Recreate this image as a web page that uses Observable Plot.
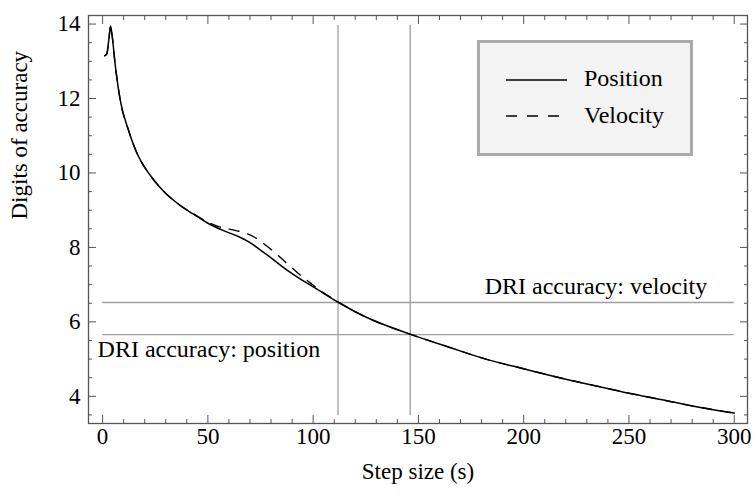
<!DOCTYPE html>
<html>
<head>
<meta charset="utf-8">
<script src="https://cdn.jsdelivr.net/npm/d3@7"></script>
<script src="https://cdn.jsdelivr.net/npm/@observablehq/plot@0.6"></script>
<style>
  body { margin: 0; background: #fff; }
  #wrap { position: relative; width: 754px; height: 495px; font-family: 'Liberation Serif', 'DejaVu Serif', serif; }
  #wrap svg, #wrap text { font-family: 'Liberation Serif', 'DejaVu Serif', serif !important; }
  #legend { position: absolute; left: 477px; top: 40px; }
</style>
</head>
<body>
<div id="wrap"></div>
<script>
// Position curve (step size in s, digits of accuracy)
const positionX = [1, 2, 3, 3.8, 4.5, 6, 8.4, 12.3, 17, 20, 23.5, 27, 30, 33, 37, 43, 50, 57.5, 65, 70, 75, 80, 85, 92, 102, 112, 125, 146, 165, 182, 200, 220, 236, 252, 268, 284, 300];
const positionY = [13.15, 13.2, 13.6, 13.95, 13.7, 12.9, 11.95, 11.15, 10.45, 10.15, 9.87, 9.63, 9.45, 9.3, 9.12, 8.9, 8.65, 8.45, 8.28, 8.13, 7.93, 7.72, 7.5, 7.22, 6.87, 6.52, 6.13, 5.67, 5.31, 5.0, 4.74, 4.46, 4.26, 4.06, 3.88, 3.70, 3.55];
// Velocity curve
const velocityX = [1, 2, 3, 3.8, 4.5, 6, 8.4, 12.3, 17, 20, 23.5, 27, 30, 33, 37, 43, 50, 57.5, 62, 68, 72, 77, 81, 85, 89, 93, 97, 102, 112, 125, 146, 165, 182, 200, 220, 236, 252, 268, 284, 300];
const velocityY = [13.15, 13.2, 13.6, 13.95, 13.7, 12.9, 11.95, 11.15, 10.45, 10.15, 9.87, 9.63, 9.45, 9.3, 9.12, 8.91, 8.68, 8.52, 8.47, 8.38, 8.28, 8.08, 7.9, 7.7, 7.5, 7.3, 7.12, 6.9, 6.53, 6.13, 5.67, 5.31, 5.0, 4.74, 4.46, 4.26, 4.06, 3.88, 3.70, 3.55];

// DRI accuracy reference levels and crossing step sizes
const driLevels = [6.52, 5.66];
const driSteps = [111.8, 146.1];
const driLabels = ["DRI accuracy: velocity", "DRI accuracy: position"];
const driLabelX = [287.2, -2.4];
const driLabelY = [6.96, 5.27];
const driLabelAnchor = ["end", "start"];

// Axes
const xMajor = [0, 50, 100, 150, 200, 250, 300];
const xMinor = d3.range(0, 301, 10).filter(v => v % 50 !== 0);
const yMajor = [4, 6, 8, 10, 12, 14];
const yMinor = d3.range(3.5, 14.01, 0.5).filter(v => v % 2 !== 0);
const xTitle = "Step size (s)";
const yTitle = "Digits of accuracy";
const seriesNames = ["Position", "Velocity"];

const posData = positionX.map((x, i) => ({x, y: positionY[i]}));
const velData = velocityX.map((x, i) => ({x, y: velocityY[i]}));
const labelData = driLabels.map((t, i) => ({t, x: driLabelX[i], y: driLabelY[i], a: driLabelAnchor[i]}));

const tickColor = "#555";
const font = "'Liberation Serif', 'DejaVu Serif', serif";

const chart = Plot.plot({
  width: 754,
  height: 495,
  marginLeft: 88,
  marginRight: 7,
  marginTop: 15,
  marginBottom: 72,
  style: {fontFamily: font, fontSize: "23px", color: "#000", background: "#fff"},
  x: {domain: [-6.7, 306.3]},
  y: {domain: [3.27, 14.23]},
  marks: [
    Plot.ruleY(driLevels, {y: d => d, x1: 0, x2: 300, stroke: "#a0a0a0", strokeWidth: 1.3}),
    Plot.ruleX(driSteps, {x: d => d, y1: 3.48, y2: 13.96, stroke: "#a0a0a0", strokeWidth: 1.3}),
    Plot.text(labelData.filter(d => d.a === "end"), {x: "x", y: "y", text: "t", textAnchor: "end", lineAnchor: "middle", fontSize: 24, fontFamily: font, fill: "#000"}),
    Plot.text(labelData.filter(d => d.a === "start"), {x: "x", y: "y", text: "t", textAnchor: "start", lineAnchor: "middle", fontSize: 24, fontFamily: font, fill: "#000"}),
    Plot.line(velData, {x: "x", y: "y", curve: "monotone-x", stroke: "#000", strokeWidth: 1.4, strokeDasharray: "10,9"}),
    Plot.line(posData, {x: "x", y: "y", curve: "monotone-x", stroke: "#000", strokeWidth: 1.5}),
    // axes: ticks inward on all sides
    Plot.axisX({anchor: "bottom", ticks: xMajor, tickSize: -8, tickPadding: 12, tickFormat: d => String(d), label: null, stroke: tickColor, fill: "#000", fontFamily: font}),
    Plot.axisX({anchor: "bottom", ticks: xMinor, tickSize: -4, tickFormat: () => "", label: null, stroke: tickColor}),
    Plot.axisX({anchor: "top", ticks: xMajor, tickSize: -8, tickFormat: () => "", label: null, stroke: tickColor}),
    Plot.axisX({anchor: "top", ticks: xMinor, tickSize: -4, tickFormat: () => "", label: null, stroke: tickColor}),
    Plot.axisY({anchor: "left", ticks: yMajor, tickSize: -8, tickPadding: 16, tickFormat: d => String(d), label: null, stroke: tickColor, fill: "#000", fontFamily: font}),
    Plot.axisY({anchor: "left", ticks: yMinor, tickSize: -4, tickFormat: () => "", label: null, stroke: tickColor}),
    Plot.axisY({anchor: "right", ticks: yMajor, tickSize: -8, tickFormat: () => "", label: null, stroke: tickColor}),
    Plot.axisY({anchor: "right", ticks: yMinor, tickSize: -4, tickFormat: () => "", label: null, stroke: tickColor}),
    Plot.frame({stroke: tickColor, strokeWidth: 1.3}),
    Plot.text([xTitle], {frameAnchor: "bottom", dy: 48, lineAnchor: "middle", text: d => d, fontSize: 23, fontFamily: font, fill: "#000"}),
    Plot.text([yTitle], {frameAnchor: "left", dx: -69, rotate: -90, lineAnchor: "middle", text: d => d, fontSize: 23, fontFamily: font, fill: "#000"})
  ]
});

const wrap = document.getElementById("wrap");
wrap.appendChild(chart);

// Legend box
const lg = d3.create("svg").attr("id", "legend").attr("width", 216).attr("height", 116)
  .style("font-family", font).style("font-size", "24px");
lg.append("rect").attr("x", 1.5).attr("y", 1.5).attr("width", 213).attr("height", 113)
  .attr("fill", "#f3f3f3").attr("stroke", "#aaa").attr("stroke-width", 3);
const rowsY = [40, 76];
const dashes = [null, "11,10"];
seriesNames.forEach((name, i) => {
  lg.append("line").attr("x1", 29).attr("x2", 90).attr("y1", rowsY[i]).attr("y2", rowsY[i])
    .attr("stroke", "#000").attr("stroke-width", 1.4).attr("stroke-dasharray", dashes[i]);
  lg.append("text").attr("x", 107).attr("y", rowsY[i] + 6 + (i === 1 ? 0.5 : 0)).attr("fill", "#000")
    .attr("font-family", font).text(name);
});
wrap.appendChild(lg.node());
</script>
</body>
</html>
